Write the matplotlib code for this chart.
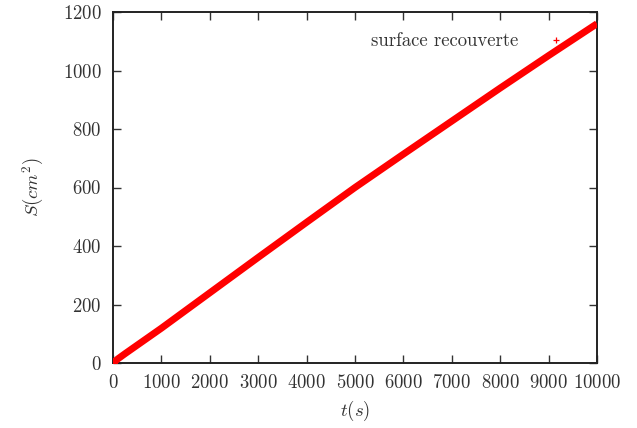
import matplotlib
matplotlib.use('Agg')
import matplotlib.pyplot as plt
from matplotlib.lines import Line2D

# surface recouverte vs temps
t = [0, 100, 250, 500, 750, 1000, 2000, 3000, 4000, 5000, 6000, 7000, 8000, 9000, 10000]
S = [0, 14, 32, 61, 90, 119, 240, 361, 481, 600, 714, 827, 940, 1051, 1160]

xticks = list(range(0, 10001, 1000))
yticks = list(range(0, 1201, 200))

plt.rcParams['font.family'] = 'cmr10'
plt.rcParams['mathtext.fontset'] = 'cm'
plt.rcParams['axes.formatter.use_mathtext'] = True
plt.rcParams['font.size'] = 13.5

fig = plt.figure(figsize=(6.37, 4.28), dpi=100)
ax = fig.add_axes([113/637, 65/428, 484/637, 351/428])

# les points sont si serrés qu'ils forment une bande continue
ax.plot(t, S, color='red', lw=5, solid_capstyle='butt', solid_joinstyle='round', zorder=3)
ax.plot(t[:1], S[:1], color='red', ls='none', marker='+', ms=7, mew=1.5, zorder=3)

ax.set_xlim(0, 10000)
ax.set_ylim(0, 1200)
ax.set_xticks(xticks)
ax.set_yticks(yticks)
ax.tick_params(direction='in', top=True, right=True, length=6, width=1, color='#333333',
               labelcolor='#333333', pad=8)
for s in ax.spines.values():
    s.set_linewidth(1.4)
    s.set_color('#222222')

ax.set_xlabel('$t(s)$', color='#333333', labelpad=5)
ax.set_ylabel('$S(cm^2)$', color='#333333', labelpad=12)

h = Line2D([], [], color='red', ls='none', marker='+', ms=5, mew=0.9)
ax.legend([h], ['surface recouverte'], loc='upper right', frameon=False, markerfirst=False,
          handlelength=2.0, handletextpad=1.0, bbox_to_anchor=(0.989, 0.99),
          labelcolor='#333333')

fig.savefig('out.png', dpi=100)
